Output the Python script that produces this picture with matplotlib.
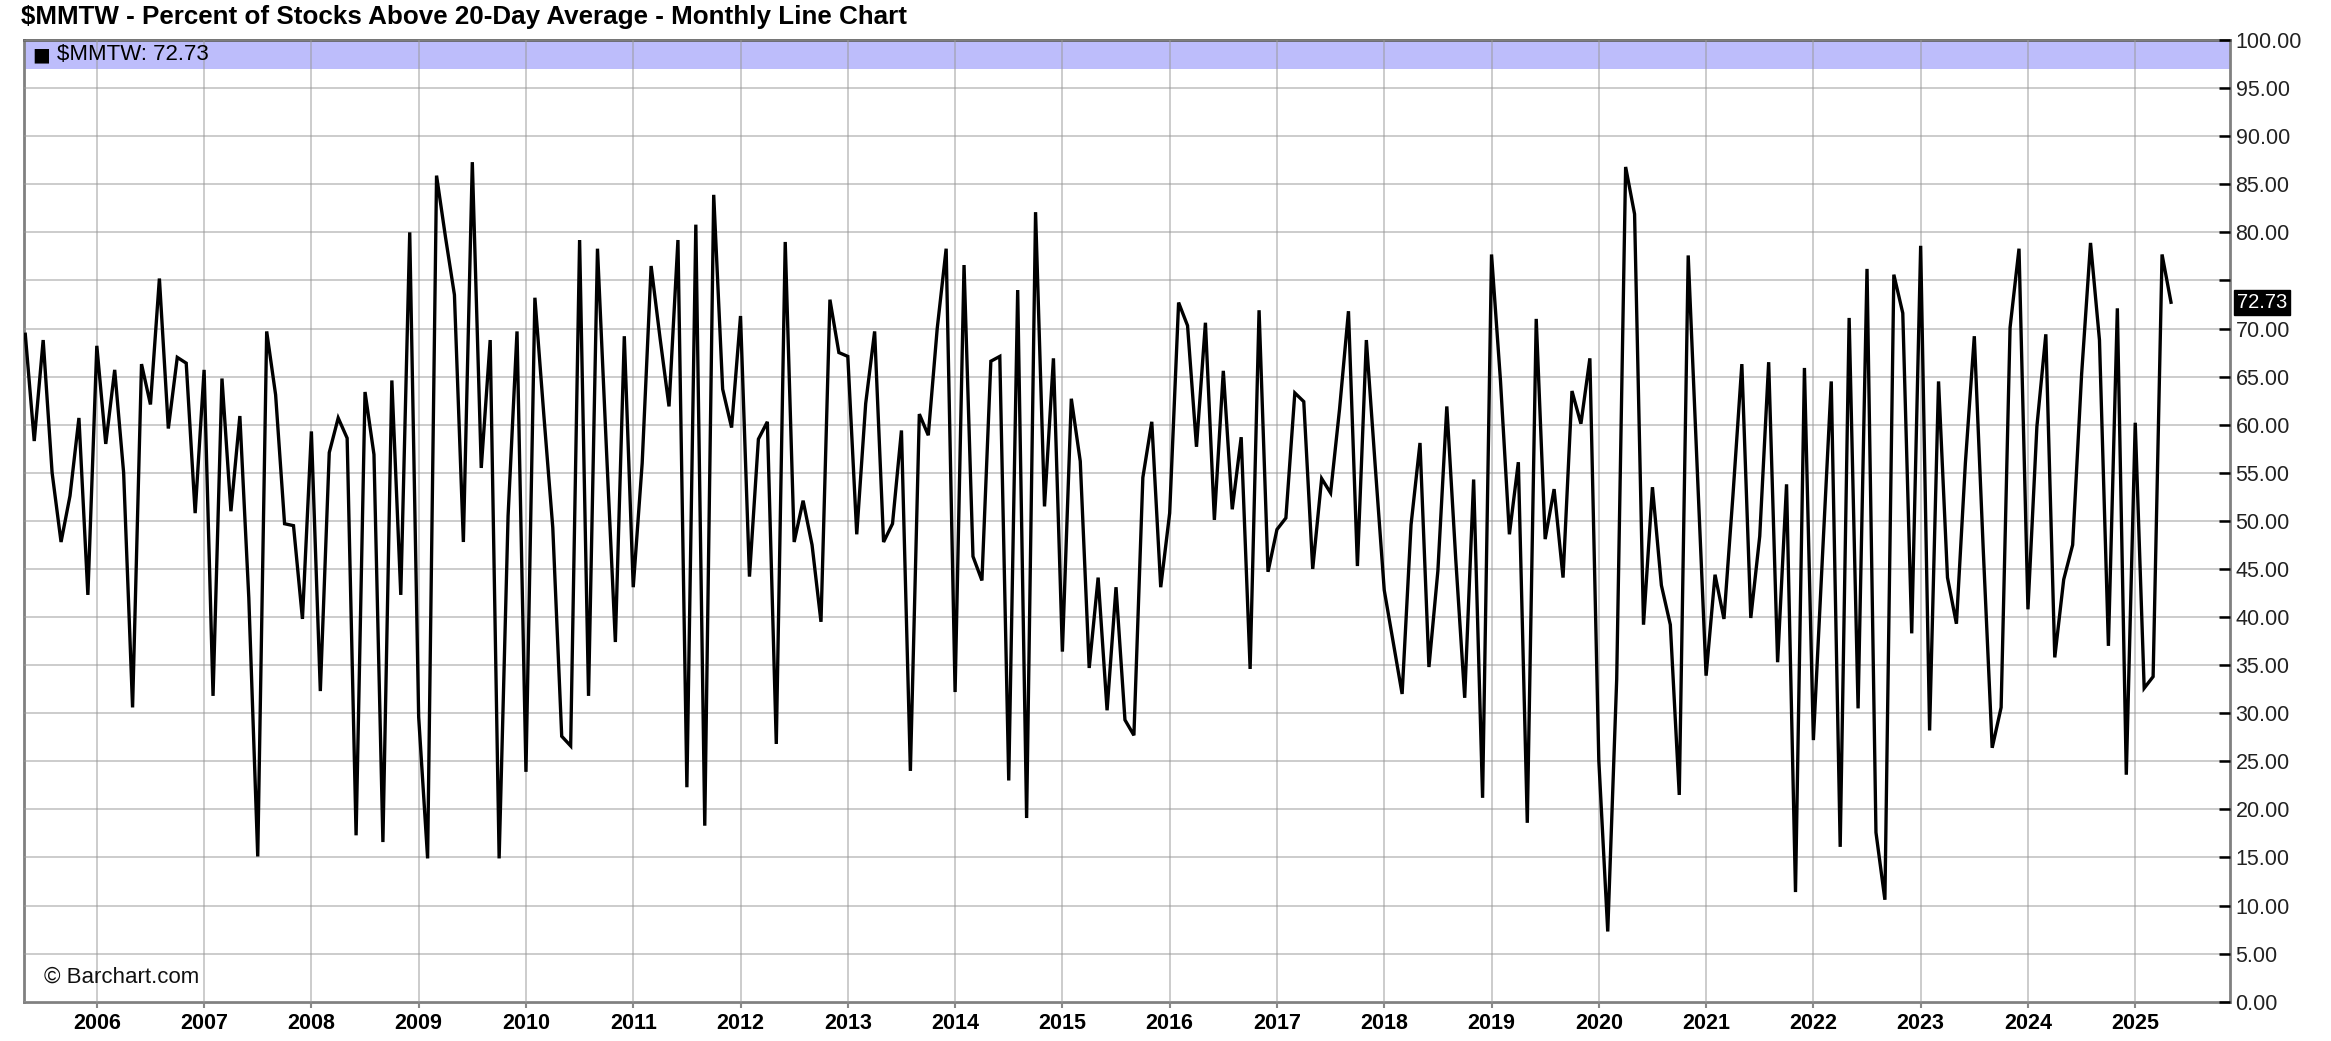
import numpy as np
import matplotlib.pyplot as plt
import matplotlib.transforms as mtransforms

plt.rcParams['font.family'] = ['Liberation Sans', 'DejaVu Sans']

# monthly readings of $MMTW, May 2005 .. May 2025
mmtw = [
    69.4, 58.3, 68.8, 55.0, 47.8, 52.6, 60.7, 42.3,                      # 2005
    68.2, 58.0, 65.7, 55.0, 30.6, 66.3, 62.1, 75.2, 59.6, 67.0, 66.4, 50.8,  # 2006
    65.7, 31.8, 64.8, 51.0, 60.9, 42.0, 15.1, 69.7, 63.1, 49.7, 49.5, 39.8,  # 2007
    59.3, 32.3, 57.1, 60.7, 58.6, 17.3, 63.4, 56.9, 16.6, 64.6, 42.3, 80.0,  # 2008
    29.6, 14.9, 85.9, 79.5, 73.5, 47.8, 87.3, 55.5, 68.8, 14.9, 50.5, 69.7,  # 2009
    23.9, 73.2, 61.0, 49.3, 27.6, 26.6, 79.2, 31.8, 78.3, 57.5, 37.4, 69.2,  # 2010
    43.1, 56.0, 76.5, 69.0, 61.9, 79.2, 22.3, 80.8, 18.3, 83.9, 63.7, 59.7,  # 2011
    71.3, 44.2, 58.5, 60.3, 26.8, 79.0, 47.8, 52.1, 47.5, 39.5, 73.0, 67.5,  # 2012
    67.1, 48.6, 62.2, 69.7, 47.8, 49.7, 59.4, 24.0, 61.1, 58.9, 70.0, 78.3,  # 2013
    32.2, 76.6, 46.3, 43.8, 66.6, 67.1, 23.0, 74.0, 19.1, 82.1, 51.5, 66.9,  # 2014
    36.4, 62.7, 56.2, 34.7, 44.1, 30.3, 43.1, 29.3, 27.7, 54.5, 60.3, 43.1,  # 2015
    50.8, 72.7, 70.3, 57.7, 70.6, 50.1, 65.6, 51.2, 58.7, 34.6, 71.9, 44.7,  # 2016
    49.1, 50.3, 63.3, 62.4, 45.0, 54.4, 52.9, 61.6, 71.8, 45.3, 68.8, 55.6,  # 2017
    42.8, 37.4, 32.0, 49.6, 58.1, 34.8, 44.8, 61.9, 46.0, 31.6, 54.3, 21.2,  # 2018
    77.7, 64.6, 48.6, 56.1, 18.6, 71.0, 48.1, 53.3, 44.1, 63.5, 60.1, 66.9,  # 2019
    25.1, 7.3, 33.5, 86.8, 81.9, 39.2, 53.5, 43.3, 39.2, 21.5, 77.6, 55.6,   # 2020
    33.9, 44.4, 39.8, 52.6, 66.3, 39.9, 48.4, 66.5, 35.3, 53.8, 11.4, 65.9,  # 2021
    27.2, 46.0, 64.5, 16.1, 71.1, 30.5, 76.2, 17.6, 10.6, 75.6, 71.6, 38.3,  # 2022
    78.6, 28.2, 64.5, 44.1, 39.3, 56.0, 69.2, 47.0, 26.4, 30.6, 70.1, 78.3,  # 2023
    40.8, 59.8, 69.4, 35.8, 43.9, 47.5, 65.2, 78.9, 68.8, 37.0, 72.1, 23.6,  # 2024
    60.2, 32.6, 33.8, 77.7, 72.73,                                         # 2025
]
first_year, first_month = 2005, 5
years = list(range(2006, 2026))
last_value = mmtw[-1]

W, H = 2331, 1041
fig = plt.figure(figsize=(W / 100, H / 100), dpi=100)
ax = fig.add_axes([23.5 / W, 1 - 1001.7 / H, (2230 - 23.5) / W, (1001.7 - 40) / H])
blend = mtransforms.blended_transform_factory(ax.transAxes, ax.transData)

x = np.arange(len(mmtw))
ax.plot(x, mmtw, color='black', lw=2.4, zorder=3, solid_joinstyle='miter')

# header band
ax.axhspan(97, 100, color='#bdbdfb', zorder=0.5, lw=0)

ax.set_xlim(-0.2, 246.6)
ax.set_ylim(0, 100)

# year ticks at January
jan = [(y - first_year) * 12 + (1 - first_month) for y in years]
ax.set_xticks(jan)
ax.set_xticklabels([str(y) for y in years], fontsize=15.5, fontweight='bold')
ax.tick_params(axis='x', direction='out', length=4, width=1.5, color='#888888', pad=4)

yt = np.arange(0, 101, 5)
ax.yaxis.tick_right()
ax.set_yticks(yt)
ax.set_yticklabels(['' if v == 75 else f'{v:.2f}' for v in yt], fontsize=15.5, color='#222222')
ax.tick_params(axis='y', direction='in', length=8, width=1.8, color='black', pad=4)

ax.grid(True, color='#999999', alpha=0.5, lw=1.4, zorder=1)
ax.set_axisbelow(False)
for s in ax.spines.values():
    s.set_color('#808080')
    s.set_linewidth(2)
ax.spines['top'].set_color('#666666')

# title and legend
fig.text(21 / W, 1 - 17 / H, '$MMTW - Percent of Stocks Above 20-Day Average - Monthly Line Chart',
         fontsize=18.7, fontweight='bold', va='center', ha='left', parse_math=False)
ax.text(0.0038, 98.45, '\u25a0', transform=blend,
        fontsize=13.5, va='center', ha='left', family=['DejaVu Sans'])
ax.text(0.015, 98.45, f'$MMTW: {last_value:.2f}', transform=blend,
        fontsize=16, va='center', ha='left', parse_math=False)
ax.text(0.0095, 2.55, '\u00a9 Barchart.com', transform=blend,
        fontsize=16, va='center', ha='left', color='#111111')

# last value marker on the right axis
ax.text(1.003, last_value, f'{last_value:.2f}', transform=blend,
        fontsize=14.5, va='center', ha='left', color='white',
        bbox=dict(boxstyle='square,pad=0.15', fc='black', ec='black'))

fig.savefig('out.png', dpi=100)
